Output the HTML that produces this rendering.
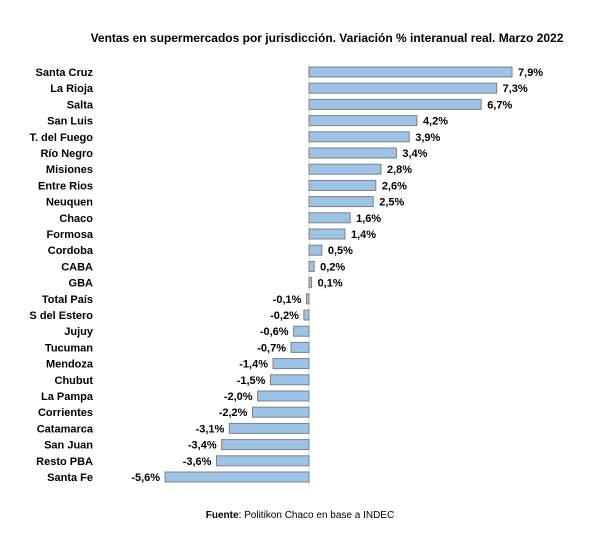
<!DOCTYPE html><html><head><style>body{margin:0;background:#fff;width:600px;height:543px;overflow:hidden}</style></head><body>
<svg width="600" height="543" xmlns="http://www.w3.org/2000/svg" font-family="Liberation Sans, sans-serif">
<text x="327" y="42" text-anchor="middle" font-size="12" font-weight="bold">Ventas en supermercados por jurisdicción. Variación % interanual real. Marzo 2022</text>
<line x1="309" y1="64" x2="309" y2="486" stroke="#d9d9d9" stroke-width="1"/>
<g id="bars" font-size="11" font-weight="bold"></g>
<text x="300" y="518" text-anchor="middle" font-size="10"><tspan font-weight="bold">Fuente</tspan>: Politikon Chaco en base a INDEC</text>
</svg>
<script>
var d=[["Santa Cruz",7.9],["La Rioja",7.3],["Salta",6.7],["San Luis",4.2],["T. del Fuego",3.9],["Río Negro",3.4],["Misiones",2.8],["Entre Rios",2.6],["Neuquen",2.5],["Chaco",1.6],["Formosa",1.4],["Cordoba",0.5],["CABA",0.2],["GBA",0.1],["Total País",-0.1],["S del Estero",-0.2],["Jujuy",-0.6],["Tucuman",-0.7],["Mendoza",-1.4],["Chubut",-1.5],["La Pampa",-2.0],["Corrientes",-2.2],["Catamarca",-3.1],["San Juan",-3.4],["Resto PBA",-3.6],["Santa Fe",-5.6]];
var g=document.getElementById("bars"),s="",z=309,k=25.7;
d.forEach(function(r,i){var y=72+i*16.2,v=r[1],w=Math.abs(v)*k,x=v>=0?z:z-w;
s+='<text x="93" y="'+(y+4)+'" text-anchor="end">'+r[0]+'</text>';
s+='<rect x="'+x+'" y="'+(y-5)+'" width="'+Math.max(w,1.5)+'" height="10" fill="#9dc3e6" stroke="#808080" stroke-width="1"/>';
var t=(v.toFixed(1)).replace(".",",")+"%";
if(v>=0)s+='<text x="'+(z+w+6)+'" y="'+(y+4)+'">'+t+'</text>';else s+='<text x="'+(z-w-5)+'" y="'+(y+4)+'" text-anchor="end">'+t+'</text>';});
g.innerHTML=s;
</script>
</body></html>
